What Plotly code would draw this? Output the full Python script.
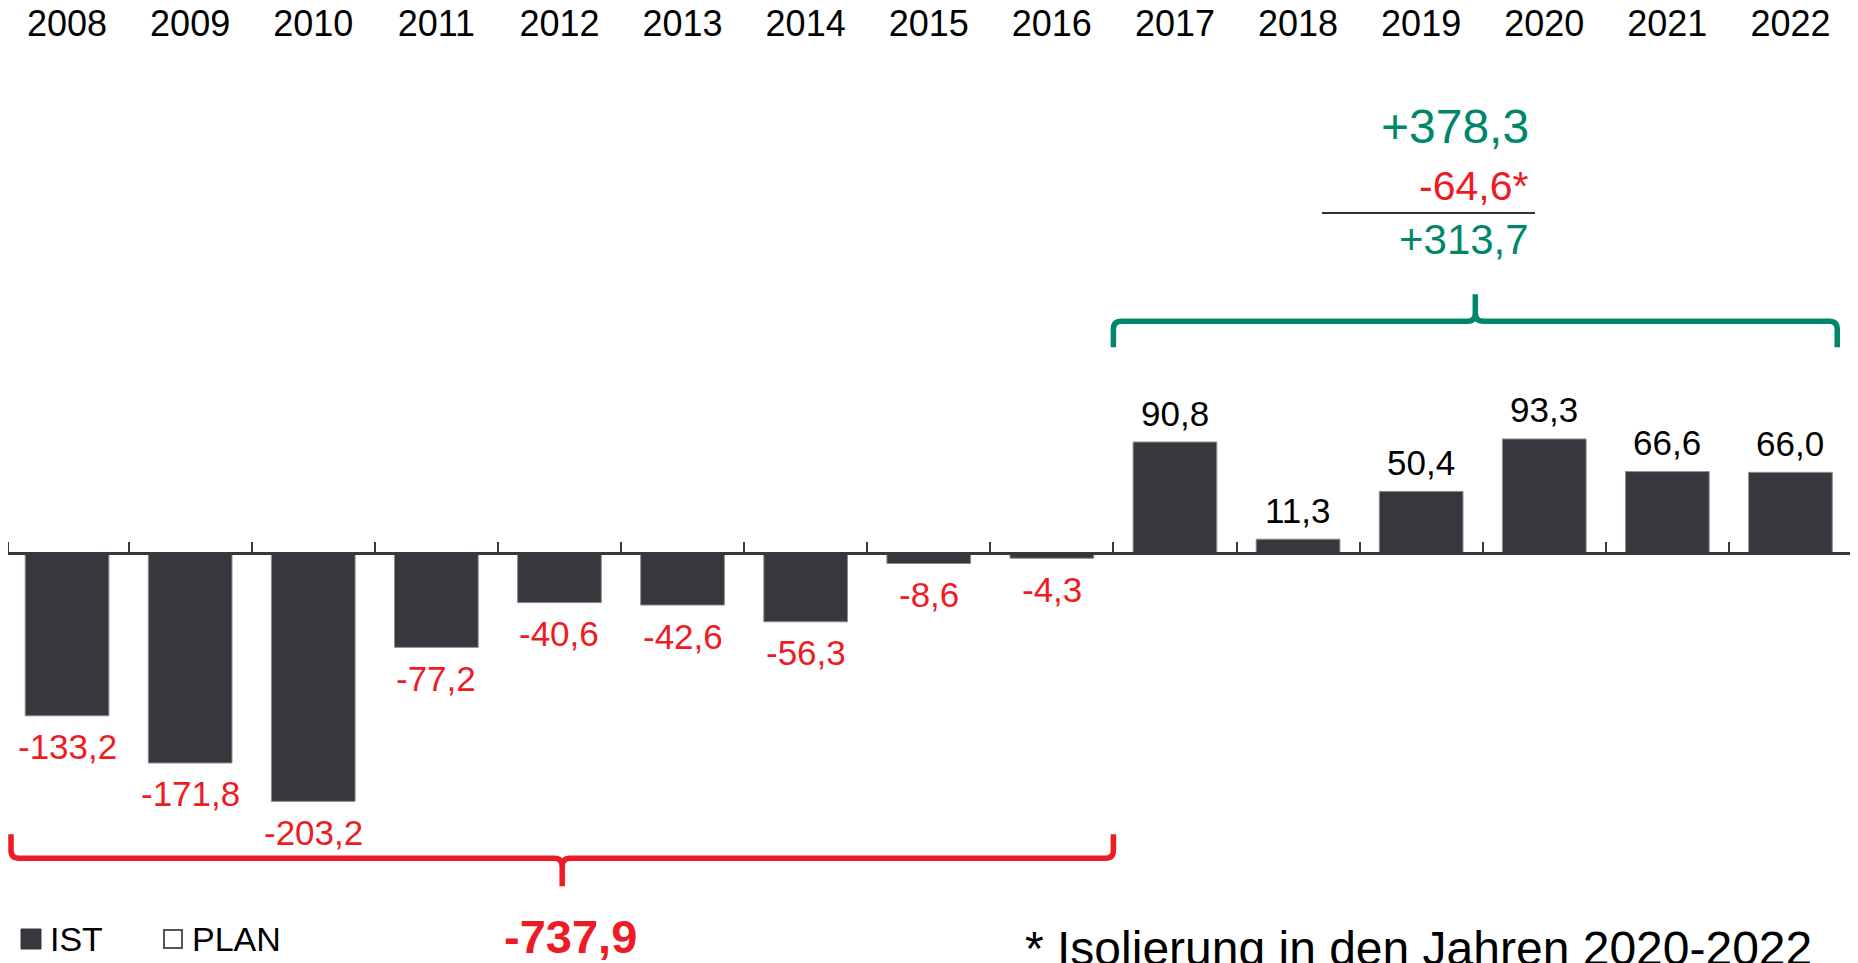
import plotly.graph_objects as go

# ---------------- data ----------------
years = [2008, 2009, 2010, 2011, 2012, 2013, 2014, 2015, 2016,
         2017, 2018, 2019, 2020, 2021, 2022]
year_labels = [str(y) for y in years]
ist_values = [-133.2, -171.8, -203.2, -77.2, -40.6, -42.6, -56.3, -8.6, -4.3,
              90.8, 11.3, 50.4, 93.3, 66.6, 66.0]
neg_total_label = "-737,9"
pos_gross_label = "+378,3"
isolation_label = "-64,6*"
pos_net_label = "+313,7"
footnote_text = "* Isolierung in den Jahren 2020-2022"
legend_labels = ["IST", "PLAN"]

# ---------------- style / layout ----------------
OFF = 8                      # page body margin of the html page
W, H = 1858 - OFF, 963 - OFF
CAT_PX = 123.1               # pixel width of one category
AXIS_RIGHT_PAGE = 1852
ML = 0
MR = W - (AXIS_RIGHT_PAGE - OFF)
MT = 36
MB = 0
PPU = 1.2223                 # pixels per data unit (y)
ZERO_PAGE = 553              # page row of y = 0
PLOT_W = W - ML - MR
PLOT_H = H - MT - MB

BAR = "#38373d"
RED = "#ed1c24"
GREEN = "#00876b"
FONT = "Liberation Sans, Arial, sans-serif"

zero_fig = ZERO_PAGE - OFF
y_top = (zero_fig - MT) / PPU
y_bot = -(H - MB - zero_fig) / PPU
x_hi = len(years) - 0.5
x_lo = x_hi - PLOT_W / CAT_PX


def px_x(page_px):
    return (page_px - OFF - ML) / PLOT_W


def px_y(page_py):
    return (H - MB - (page_py - OFF)) / PLOT_H


def fmt(v):
    return f"{v:.1f}".replace(".", ",")


idx = list(range(len(years)))

fig = go.Figure()
fig.add_trace(go.Bar(
    x=idx, y=ist_values, width=0.68, name=legend_labels[0],
    marker=dict(color=BAR, line=dict(color="#8c8c90", width=1)),
    showlegend=False, hoverinfo="skip",
))
# carrier for the top year axis
fig.add_trace(go.Scatter(
    x=idx, y=[0] * len(idx), xaxis="x2", yaxis="y", mode="markers",
    marker=dict(opacity=0), showlegend=False, hoverinfo="skip",
))

# value labels
annotations = []
for i, v in zip(idx, ist_values):
    annotations.append(dict(
        x=i, y=v, xref="x", yref="y", text=fmt(v), showarrow=False,
        yshift=29 if v > 0 else -31, yanchor="middle", xanchor="center",
        font=dict(size=35, color="black" if v > 0 else RED, family=FONT),
    ))


def brace(x0, x1, y_line, y_end, y_tip):
    rx = 8 / CAT_PX
    ry = 8 / PPU
    de = 1 if y_end > y_line else -1
    dt = 1 if y_tip > y_line else -1
    xm = (x0 + x1) / 2
    p = (f"M {x0},{y_end} L {x0},{y_line + de*ry} Q {x0},{y_line} {x0 + rx},{y_line} "
         f"L {xm - rx},{y_line} Q {xm},{y_line} {xm},{y_line + dt*ry} L {xm},{y_tip} "
         f"L {xm},{y_line + dt*ry} Q {xm},{y_line} {xm + rx},{y_line} "
         f"L {x1 - rx},{y_line} Q {x1},{y_line} {x1},{y_line + de*ry} L {x1},{y_end}")
    return p


neg = [v for v in ist_values if v < 0]
pos = [v for v in ist_values if v > 0]
n_neg = len(neg)
vmin, vmax = min(neg), max(pos)

shapes = []
# red brace under negative years
shapes.append(dict(
    type="path", xref="x", yref="y",
    path=brace(x_lo + 3 / CAT_PX, n_neg - 0.5, vmin - 57 / PPU, vmin - 33 / PPU, vmin - 85 / PPU),
    line=dict(color=RED, width=5.5), fillcolor="rgba(0,0,0,0)",
))
# green brace over positive years
shapes.append(dict(
    type="path", xref="x", yref="y",
    path=brace(n_neg - 0.5, len(years) - 0.62, vmax + 117.6 / PPU,
               vmax + 91.6 / PPU, vmax + 144.6 / PPU),
    line=dict(color=GREEN, width=5.5), fillcolor="rgba(0,0,0,0)",
))
# subtraction rule
shapes.append(dict(
    type="line", xref="paper", yref="paper",
    x0=px_x(1322), x1=px_x(1535), y0=px_y(213), y1=px_y(213),
    line=dict(color="#333333", width=2),
))
# legend swatches
shapes.append(dict(type="rect", xref="paper", yref="paper",
                   x0=px_x(21), x1=px_x(41), y0=px_y(949), y1=px_y(929),
                   fillcolor=BAR, line=dict(color=BAR, width=1)))
shapes.append(dict(type="rect", xref="paper", yref="paper",
                   x0=px_x(164), x1=px_x(182), y0=px_y(948), y1=px_y(930),
                   fillcolor="white", line=dict(color="#555555", width=2)))

annotations += [
    dict(x=px_x(1531), y=px_y(126), xref="paper", yref="paper", text=pos_gross_label,
         showarrow=False, xanchor="right", yanchor="middle",
         font=dict(size=48, color=GREEN, family=FONT)),
    dict(x=px_x(1530), y=px_y(186), xref="paper", yref="paper", text=isolation_label,
         showarrow=False, xanchor="right", yanchor="middle",
         font=dict(size=41, color=RED, family=FONT)),
    dict(x=px_x(1531), y=px_y(239), xref="paper", yref="paper", text=pos_net_label,
         showarrow=False, xanchor="right", yanchor="middle",
         font=dict(size=42, color=GREEN, family=FONT)),
    dict(x=px_x(570), y=px_y(936), xref="paper", yref="paper",
         text=f"<b>{neg_total_label}</b>",
         showarrow=False, xanchor="center", yanchor="middle",
         font=dict(size=47, color=RED, family=FONT)),
    dict(x=px_x(48), y=px_y(939), xref="paper", yref="paper", text=legend_labels[0],
         showarrow=False, xanchor="left", yanchor="middle",
         font=dict(size=34, color="black", family=FONT)),
    dict(x=px_x(190), y=px_y(939), xref="paper", yref="paper", text=legend_labels[1],
         showarrow=False, xanchor="left", yanchor="middle",
         font=dict(size=34, color="black", family=FONT)),
    dict(x=px_x(1023), y=px_y(920), xref="paper", yref="paper", text=footnote_text,
         showarrow=False, xanchor="left", yanchor="top",
         font=dict(size=48, color="black", family=FONT)),
]

fig.update_layout(
    width=W, height=H,
    margin=dict(l=ML, r=MR, t=MT, b=MB, pad=0, autoexpand=False),
    paper_bgcolor="white", plot_bgcolor="white",
    showlegend=False,
    font=dict(family=FONT, color="black"),
    xaxis=dict(
        range=[x_lo, x_hi], anchor="free", automargin=False,
        position=(H - MB - zero_fig) / PLOT_H, side="top",
        tickmode="array",
        tickvals=[x_lo + 0.002] + [i + 0.5 for i in range(len(years))],
        ticks="outside", ticklen=10, tickwidth=2, tickcolor=BAR,
        showticklabels=False, showline=True, linecolor=BAR, linewidth=2.5,
        showgrid=False, zeroline=False,
    ),
    xaxis2=dict(
        range=[x_lo, x_hi], overlaying="x", side="top", anchor="y", automargin=False,
        tickmode="array", tickvals=idx, ticktext=year_labels,
        ticks="", showline=False, showgrid=False, zeroline=False,
        tickfont=dict(size=36, color="black", family=FONT),
    ),
    yaxis=dict(range=[y_bot, y_top], visible=False, showgrid=False, zeroline=False,
               automargin=False),
    shapes=shapes,
    annotations=annotations,
)

fig.write_html("out.html")
